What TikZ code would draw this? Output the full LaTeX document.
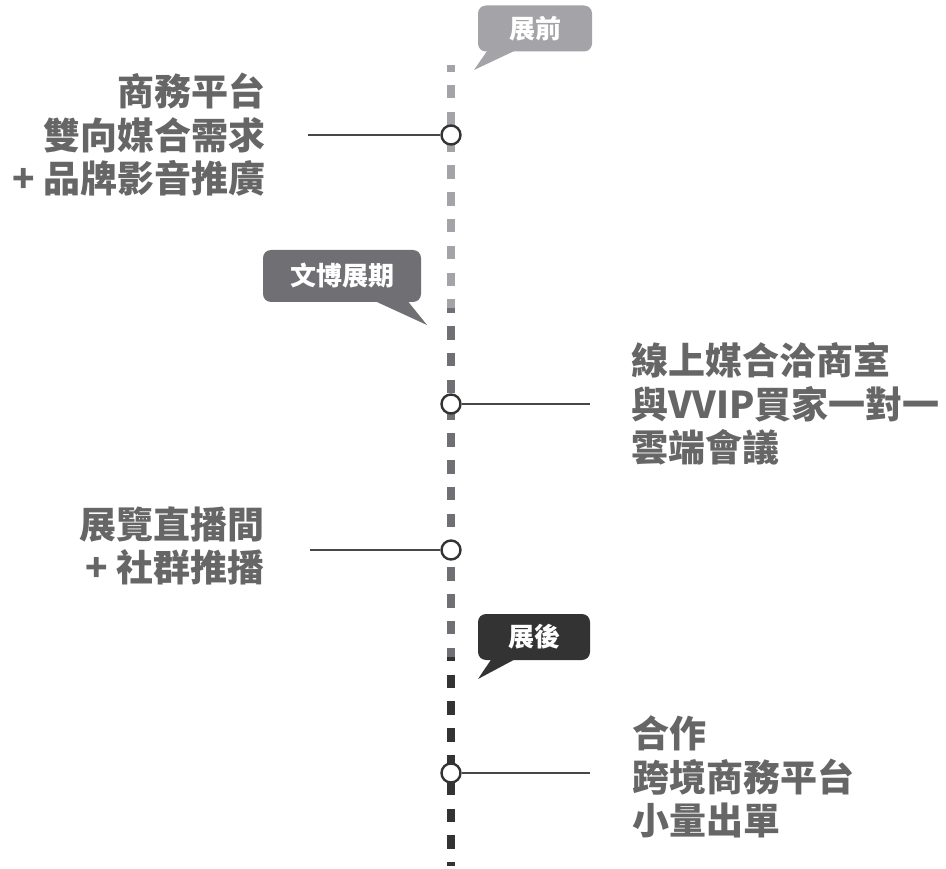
\documentclass[tikz,border=0pt]{standalone}
\usepackage{fontspec}
\setmainfont{Noto Sans CJK TC}
\usetikzlibrary{positioning,calc}
\definecolor{pregray}{HTML}{A4A4A8}
\definecolor{midgray}{HTML}{6F6F74}
\definecolor{postgray}{HTML}{333333}
\definecolor{txtgray}{HTML}{666666}
\tikzset{dot/.style={draw=postgray, line width=2.4pt, fill=white, circle, inner sep=0pt, minimum size=19pt}}
\tikzstyle{lbl}=[text=txtgray, font=\bfseries\fontsize{37}{43.5}\selectfont, inner sep=0pt]
\tikzstyle{tag}=[rounded corners=8pt, text=white, font=\bfseries\fontsize{26}{30}\selectfont, minimum height=46pt, inner sep=0pt]
\tikzstyle{axis}=[line width=8.5pt, dash pattern=on 13.4pt off 13.4pt, dash phase=6.8pt]
\tikzstyle{link}=[draw=postgray!90, line width=2pt]

\begin{document}
\begin{tikzpicture}[x=1pt, y=-1pt]
\useasboundingbox[fill=white] (0,0) rectangle (946,869);
\coordinate (top) at (451,65);
\coordinate (bot) at (451,866);
% timeline in three shades
\begin{scope}
\clip (400,0) rectangle (500,309);
\draw[axis, pregray] (top) -- (bot);
\end{scope}
\begin{scope}
\clip (400,309) rectangle (500,657);
\draw[axis, midgray] (top) -- (bot);
\end{scope}
\begin{scope}
\clip (400,657) rectangle (500,869);
\draw[axis, postgray] (top) -- (bot);
\end{scope}

% stages
\node[tag, fill=pregray, minimum width=114pt] (pre) at (535,28.5) {展前};
\node[tag, fill=midgray, minimum width=158pt, minimum height=52pt] (mid) at (342,276) {文博展期};
\node[tag, fill=postgray, minimum width=112pt] (post) at (534,637) {展後};
\coordinate (pretip) at (474,70);
\coordinate (midtip) at (427,325);
\coordinate (posttip) at (478,679);
\fill[pregray] ($(pre.south)+(-47,-2)$) -- ($(pre.south)+(-18,-2)$) -- (pretip) -- cycle;
\fill[midgray] ($(mid.south)+(31,-2)$) -- ($(mid.south)+(65,-2)$) -- (midtip) -- cycle;
\fill[postgray] ($(post.south)+(-42,-2)$) -- ($(post.south)+(-17,-2)$) -- (posttip) -- cycle;

% points on the line
\node[dot] (d1) at (451,135) {};
\node[dot] (d2) at (451,404) {};
\node[dot] (d3) at (451,550) {};
\node[dot] (d4) at (451,773) {};
\coordinate (l1) at (308,135);
\coordinate (r2) at (590,404);
\coordinate (l3) at (310,550);
\coordinate (r4) at (590,773);
\draw[link] (d1.west) -- (l1);
\draw[link] (d2.east) -- (r2);
\draw[link] (d3.west) -- (l3);
\draw[link] (d4.east) -- (r4);

\node[lbl, align=right, left=42pt of l1] (t1) {商務平台\\雙向媒合需求\\+ 品牌影音推廣};
\node[lbl, align=left, right=41pt of r2] (t2) {線上媒合洽商室\\與VVIP買家一對一\\雲端會議};
\node[lbl, align=right, left=45pt of l3, yshift=4pt] (t3) {展覽直播間\\+ 社群推播};
\node[lbl, align=left, right=42pt of r4, yshift=-4pt] (t4) {合作\\跨境商務平台\\小量出單};
\end{tikzpicture}
\end{document}
